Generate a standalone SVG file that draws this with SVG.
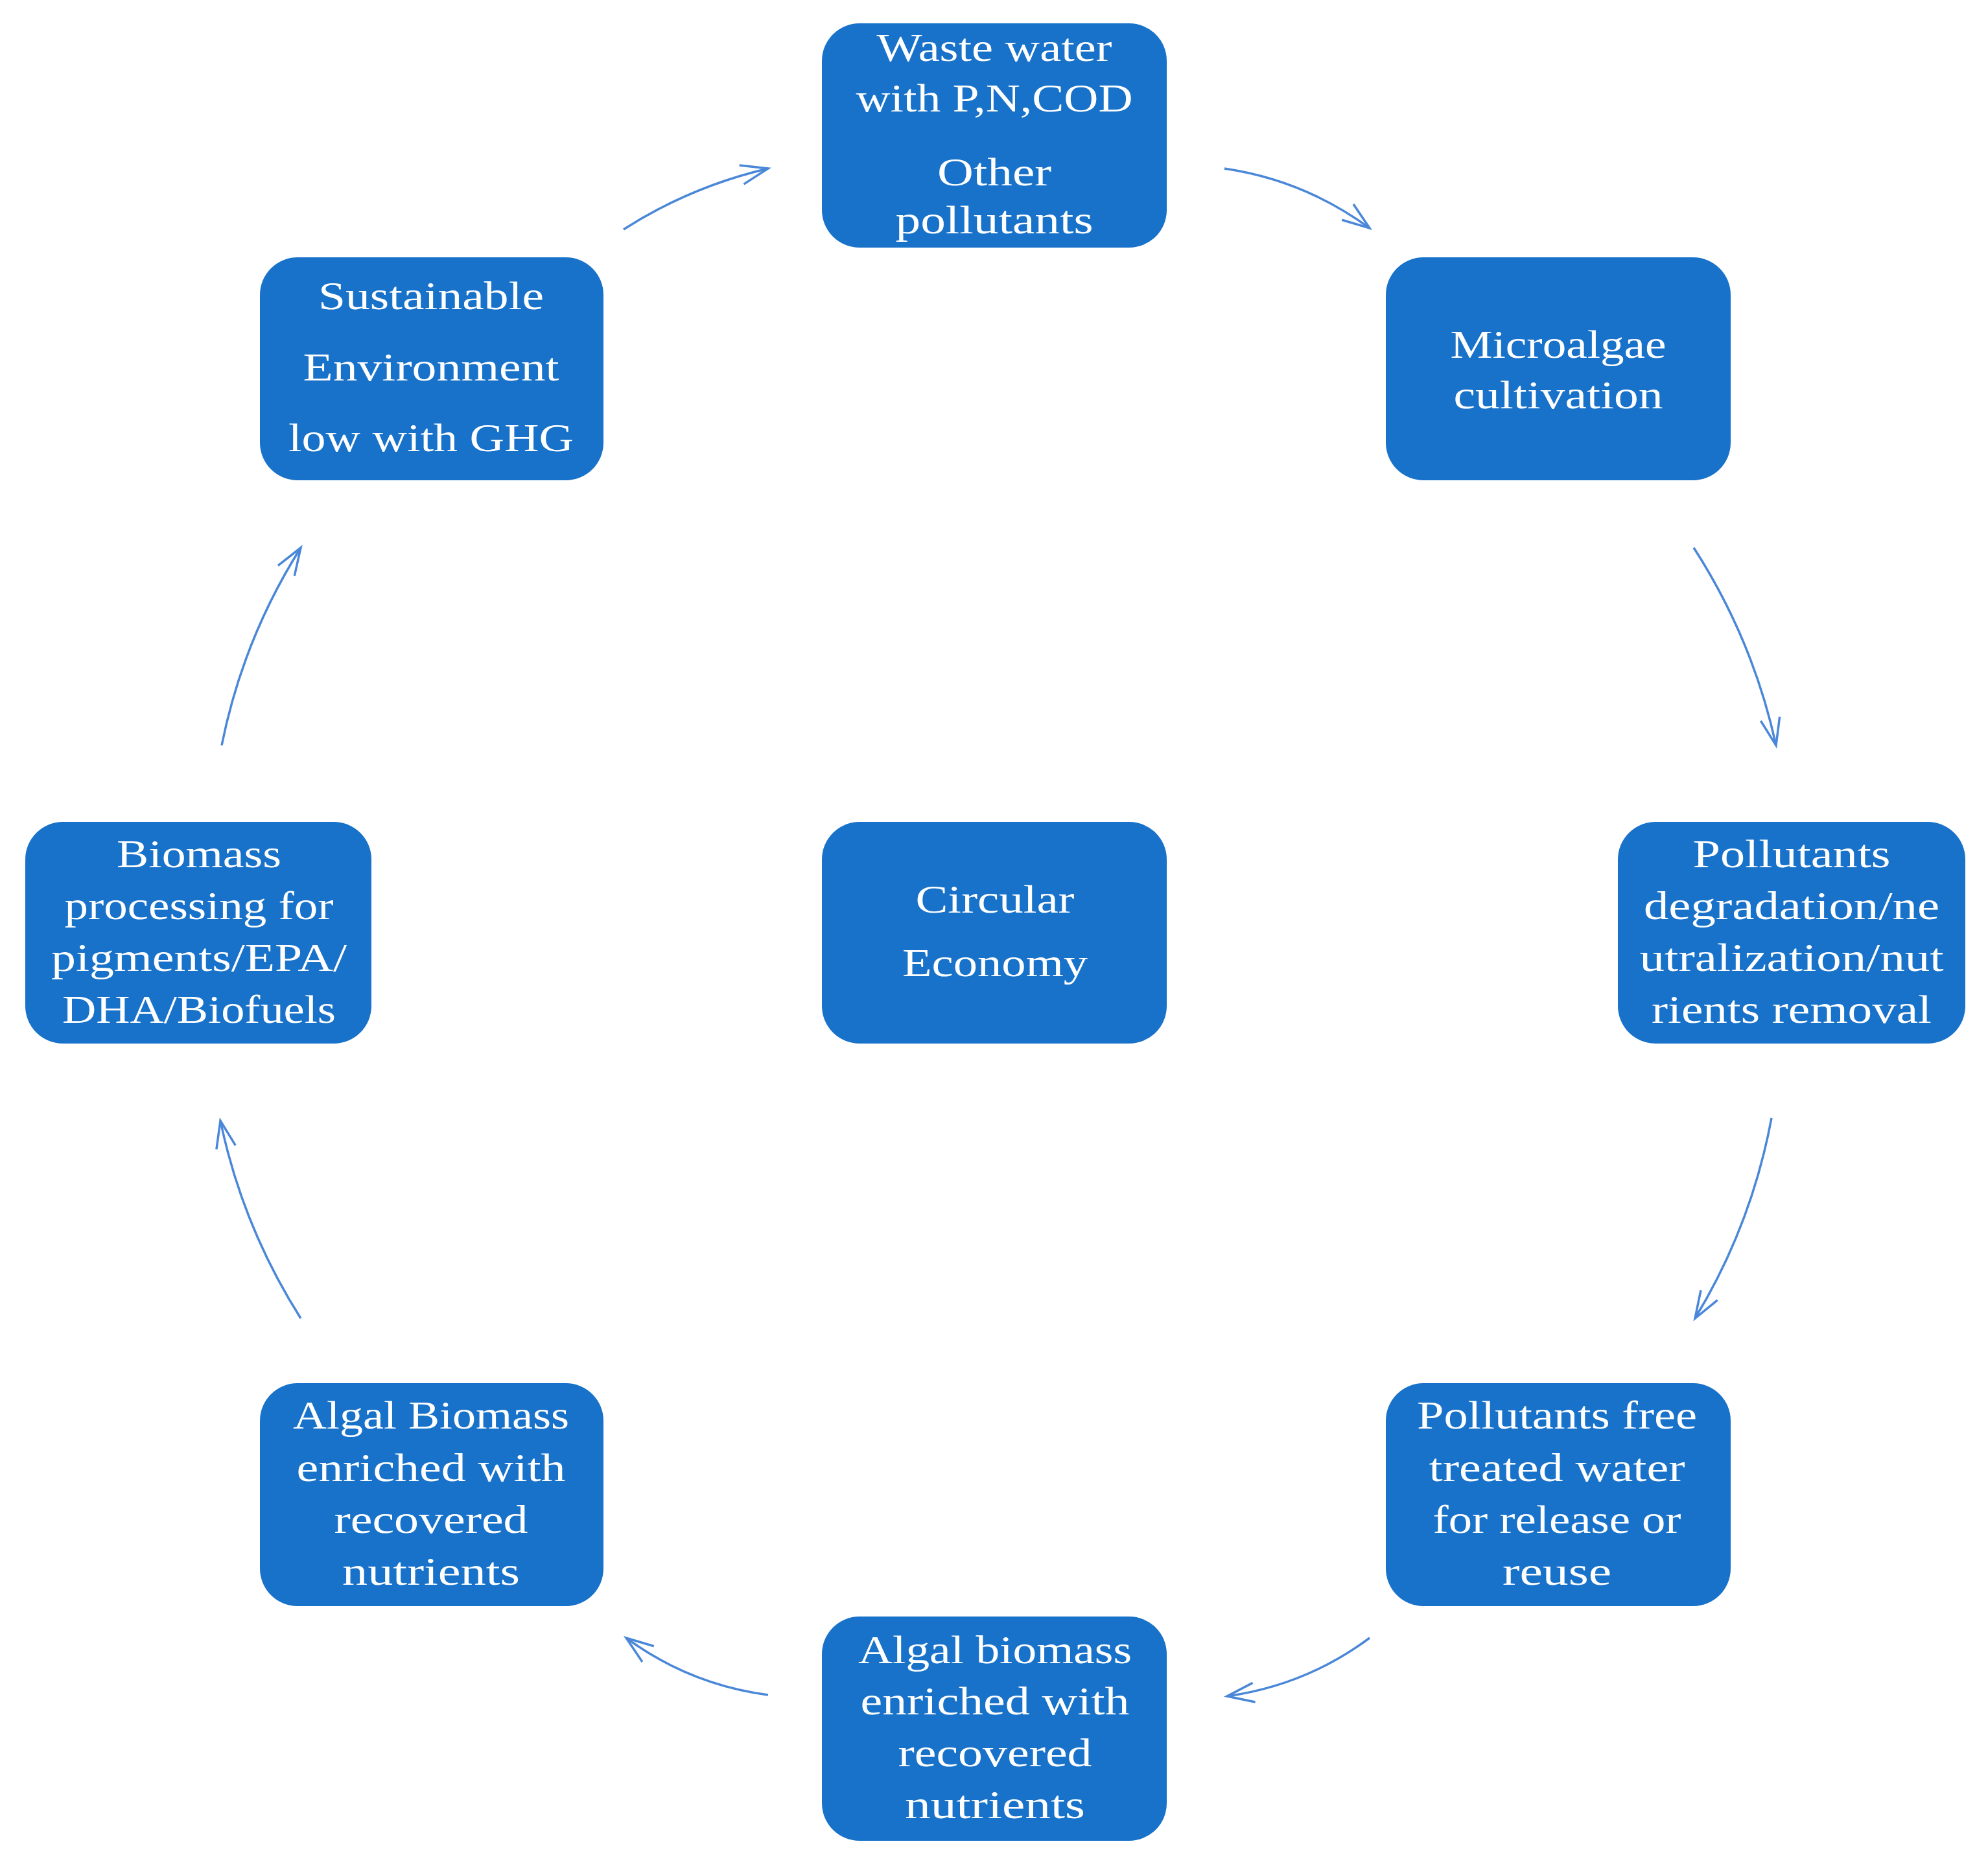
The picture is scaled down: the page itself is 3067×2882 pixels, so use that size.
<svg xmlns="http://www.w3.org/2000/svg" width="3067" height="2882" viewBox="0 0 3067 2882">
<style>
.box{fill:#1872c9}
.t{font-family:"Liberation Serif","DejaVu Serif",serif;font-size:62px;fill:#fff;text-anchor:middle}
.c{fill:none;stroke:#4a87d8;stroke-width:3.5}
</style>
<defs>
<marker id="ah" markerUnits="userSpaceOnUse" markerWidth="50" markerHeight="40" refX="44" refY="17" orient="auto" viewBox="0 0 50 40">
<path d="M2,2 L44,17 L2,32" fill="none" stroke="#4a87d8" stroke-width="3.5"/>
</marker>
</defs>
<rect width="3067" height="2882" fill="#fff"/>
<g id="waste"><rect class="box" x="1268" y="36" width="532" height="346" rx="58"/>
<text class="t"><tspan x="1534" y="94" textLength="363" lengthAdjust="spacingAndGlyphs">Waste water</tspan><tspan x="1534" y="172" textLength="427" lengthAdjust="spacingAndGlyphs">with P,N,COD</tspan><tspan x="1534" y="286" textLength="176" lengthAdjust="spacingAndGlyphs">Other</tspan><tspan x="1534" y="360" textLength="305" lengthAdjust="spacingAndGlyphs">pollutants</tspan></text></g>
<g id="sustainable"><rect class="box" x="401" y="397" width="530" height="344" rx="58"/>
<text class="t"><tspan x="665" y="477" textLength="348" lengthAdjust="spacingAndGlyphs">Sustainable</tspan><tspan x="665" y="587" textLength="395" lengthAdjust="spacingAndGlyphs">Environment</tspan><tspan x="665" y="696" textLength="440" lengthAdjust="spacingAndGlyphs">low with GHG</tspan></text></g>
<g id="microalgae"><rect class="box" x="2138" y="397" width="532" height="344" rx="58"/>
<text class="t"><tspan x="2404" y="552" textLength="333" lengthAdjust="spacingAndGlyphs">Microalgae</tspan><tspan x="2404" y="630" textLength="323" lengthAdjust="spacingAndGlyphs">cultivation</tspan></text></g>
<g id="biomass"><rect class="box" x="39" y="1268" width="534" height="342" rx="58"/>
<text class="t"><tspan x="307" y="1338" textLength="254" lengthAdjust="spacingAndGlyphs">Biomass</tspan><tspan x="307" y="1418" textLength="415" lengthAdjust="spacingAndGlyphs">processing for</tspan><tspan x="307" y="1498" textLength="456" lengthAdjust="spacingAndGlyphs">pigments/EPA/</tspan><tspan x="307" y="1578" textLength="422" lengthAdjust="spacingAndGlyphs">DHA/Biofuels</tspan></text></g>
<g id="circular"><rect class="box" x="1268" y="1268" width="532" height="342" rx="58"/>
<text class="t"><tspan x="1535" y="1408" textLength="245" lengthAdjust="spacingAndGlyphs">Circular</tspan><tspan x="1535" y="1506" textLength="286" lengthAdjust="spacingAndGlyphs">Economy</tspan></text></g>
<g id="degradation"><rect class="box" x="2496" y="1268" width="536" height="342" rx="58"/>
<text class="t"><tspan x="2764" y="1338" textLength="305" lengthAdjust="spacingAndGlyphs">Pollutants</tspan><tspan x="2764" y="1418" textLength="456" lengthAdjust="spacingAndGlyphs">degradation/ne</tspan><tspan x="2764" y="1498" textLength="469" lengthAdjust="spacingAndGlyphs">utralization/nut</tspan><tspan x="2764" y="1578" textLength="432" lengthAdjust="spacingAndGlyphs">rients removal</tspan></text></g>
<g id="algalLeft"><rect class="box" x="401" y="2134" width="530" height="344" rx="58"/>
<text class="t"><tspan x="665" y="2204" textLength="426" lengthAdjust="spacingAndGlyphs">Algal Biomass</tspan><tspan x="665" y="2285" textLength="415" lengthAdjust="spacingAndGlyphs">enriched with</tspan><tspan x="665" y="2365" textLength="299" lengthAdjust="spacingAndGlyphs">recovered</tspan><tspan x="665" y="2445" textLength="274" lengthAdjust="spacingAndGlyphs">nutrients</tspan></text></g>
<g id="treated"><rect class="box" x="2138" y="2134" width="532" height="344" rx="58"/>
<text class="t"><tspan x="2402" y="2204" textLength="432" lengthAdjust="spacingAndGlyphs">Pollutants free</tspan><tspan x="2402" y="2285" textLength="395" lengthAdjust="spacingAndGlyphs">treated water</tspan><tspan x="2402" y="2365" textLength="383" lengthAdjust="spacingAndGlyphs">for release or</tspan><tspan x="2402" y="2445" textLength="168" lengthAdjust="spacingAndGlyphs">reuse</tspan></text></g>
<g id="algalBottom"><rect class="box" x="1268" y="2494" width="532" height="346" rx="58"/>
<text class="t"><tspan x="1535" y="2566" textLength="422" lengthAdjust="spacingAndGlyphs">Algal biomass</tspan><tspan x="1535" y="2645" textLength="415" lengthAdjust="spacingAndGlyphs">enriched with</tspan><tspan x="1535" y="2725" textLength="299" lengthAdjust="spacingAndGlyphs">recovered</tspan><tspan x="1535" y="2805" textLength="278" lengthAdjust="spacingAndGlyphs">nutrients</tspan></text></g>
<g id="connectors">
<path class="c" marker-end="url(#ah)" d="M962,354 Q1065,288 1185,260"/>
<path class="c" marker-end="url(#ah)" d="M1889,260 Q2012,278 2113,352"/>
<path class="c" marker-end="url(#ah)" d="M2613,845 Q2704,986 2740,1150"/>
<path class="c" marker-end="url(#ah)" d="M2733,1725 Q2702,1891 2615,2034"/>
<path class="c" marker-end="url(#ah)" d="M2113,2527 Q2015,2600 1893,2617"/>
<path class="c" marker-end="url(#ah)" d="M1185,2615 Q1064,2599 966,2527"/>
<path class="c" marker-end="url(#ah)" d="M464,2034 Q374,1892 340,1729"/>
<path class="c" marker-end="url(#ah)" d="M342,1150 Q375,986 464,845"/>
</g>
</svg>
